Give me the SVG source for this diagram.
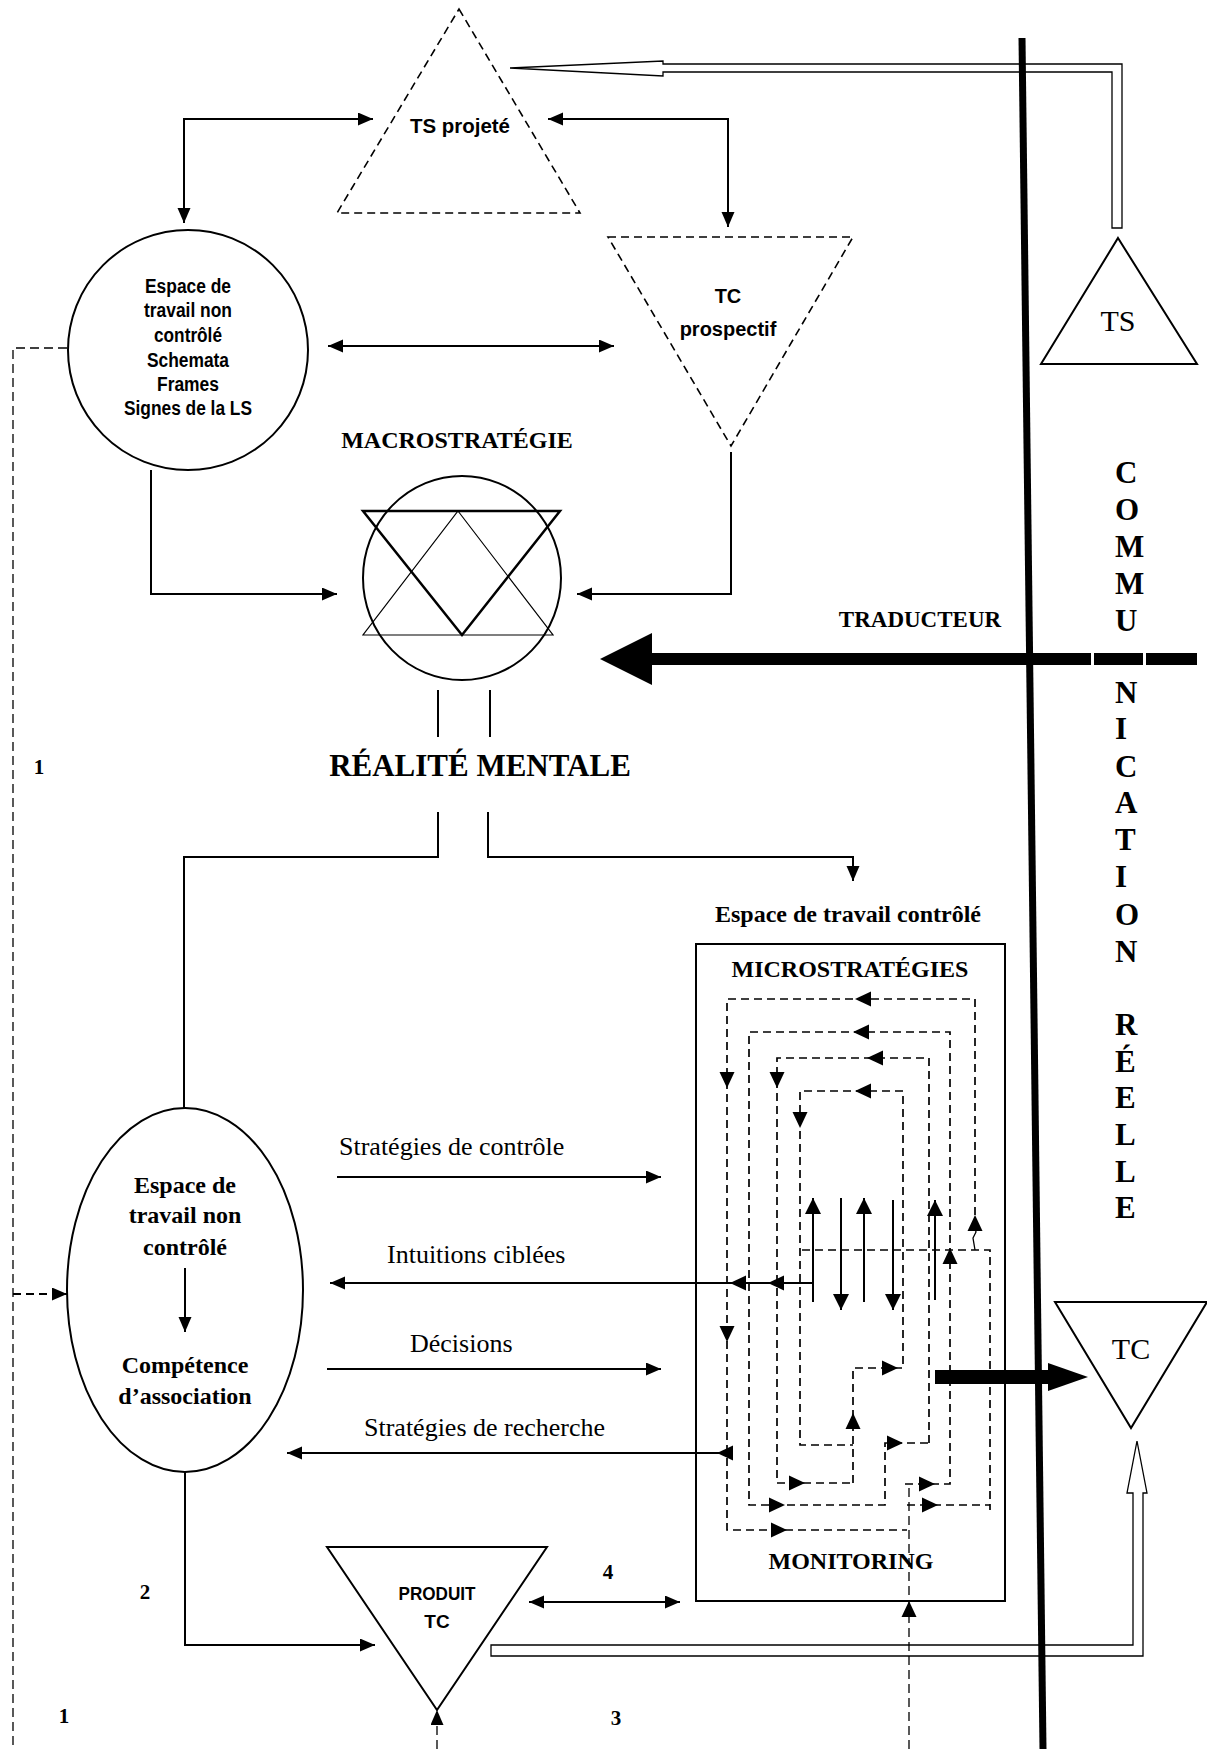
<svg xmlns="http://www.w3.org/2000/svg" xmlns:xlink="http://www.w3.org/1999/xlink" width="1207" height="1749" viewBox="0 0 1207 1749">
<style>
.ser{font-family:"Liberation Serif","Times New Roman",serif;fill:#000}
.sb{font-family:"Liberation Serif","Times New Roman",serif;font-weight:bold;fill:#000}
.sans{font-family:"Liberation Sans",Arial,sans-serif;font-weight:bold;fill:#000}
.ln{fill:none;stroke:#000;stroke-width:2}
.thin{fill:none;stroke:#000;stroke-width:1.3}
.dsh{fill:none;stroke:#000;stroke-width:1.7;stroke-dasharray:8 5}
.dsh2{fill:none;stroke:#000;stroke-width:2;stroke-dasharray:8 5}
.dsh3{fill:none;stroke:#000;stroke-width:1.3;stroke-dasharray:9 5}
.shape{fill:#fff;stroke:#000;stroke-width:2}
.hollow{fill:#fff;stroke:#000;stroke-width:1.3}
</style>
<defs>
<marker id="a" markerUnits="userSpaceOnUse" markerWidth="16" markerHeight="14" refX="15" refY="6.5" orient="auto-start-reverse"><path d="M0,0 L15,6.5 L0,13 Z" fill="#000"/></marker>
<marker id="b" markerUnits="userSpaceOnUse" markerWidth="18" markerHeight="16" refX="16" refY="8" orient="auto-start-reverse"><path d="M0,0 L16,8 L0,16 Z" fill="#000"/></marker>
<path id="hd" d="M0,0 L-16,-7.5 L-16,7.5 Z" fill="#000"/>
</defs>

<g id="connectors">
<!-- top hollow arrow TS -> TS projeté -->
<polygon class="hollow" points="510,68 663,61 663,64 1122,64 1122,228 1112,228 1112,72 663,72 663,76"/>
<!-- bottom hollow arrow PRODUIT TC -> TC -->
<polygon class="hollow" points="491,1645 1133,1645 1133,1493 1127,1493 1137,1441 1147,1493 1143,1493 1143,1656 491,1656"/>

<path class="ln" d="M184,223 V119 H373" marker-start="url(#a)" marker-end="url(#a)"/>
<path class="ln" d="M548,119 H728 V227" marker-start="url(#a)" marker-end="url(#a)"/>
<path class="ln" d="M328,346 H614" marker-start="url(#a)" marker-end="url(#a)"/>
<path class="ln" d="M151,470 V594 H337" marker-end="url(#a)"/>
<path class="ln" d="M731,452 V594 H577" marker-end="url(#a)"/>

<!-- TRADUCTEUR thick arrow -->
<polygon points="600,659 652,633 652,685" fill="#000"/>
<rect x="650" y="653" width="441" height="12" fill="#000"/>
<rect x="1094" y="653" width="49" height="12" fill="#000"/>
<rect x="1146" y="653" width="51" height="12" fill="#000"/>

<!-- réalité mentale links -->
<path class="ln" d="M438,690 V737 M490,690 V737"/>
<path class="ln" d="M438,812 V857 H184 V1108"/>
<path class="ln" d="M488,812 V857 H853 V881" marker-end="url(#a)"/>

<!-- labelled arrows -->
<path class="ln" d="M337,1177 H661" marker-end="url(#a)"/>
<path class="ln" d="M813,1283 H330" marker-end="url(#a)"/>
<use xlink:href="#hd" transform="translate(730,1283) rotate(180)"/>
<use xlink:href="#hd" transform="translate(768,1283) rotate(180)"/>
<path class="ln" d="M327,1369 H661" marker-end="url(#a)"/>
<path class="ln" d="M727,1453 H287" marker-end="url(#a)"/>
<use xlink:href="#hd" transform="translate(717,1453) rotate(180)"/>
<path class="ln" d="M529,1602 H680" marker-start="url(#a)" marker-end="url(#a)"/>
<path class="ln" d="M185,1472 V1645 H375" marker-end="url(#a)"/>

<!-- dashed external -->
<path class="dsh3" d="M67,348 H13 V1749"/>
<path class="dsh2" d="M13,1294 H67" marker-end="url(#a)"/>
<path class="dsh3" d="M437,1749 V1710" marker-end="url(#a)"/>
<path class="dsh3" d="M909,1749 V1483"/>
<use xlink:href="#hd" transform="translate(909,1601) rotate(-90)"/>

<!-- microstrategies loops -->
<path class="dsh" d="M975,1215 V999 H727 V1530 H907"/>
<path class="thin" d="M975,1250 L973,1238 L976,1232 L974,1224"/>
<use xlink:href="#hd" transform="translate(975,1215) rotate(-90)"/>
<use xlink:href="#hd" transform="translate(855,999) rotate(180)"/>
<use xlink:href="#hd" transform="translate(727,1088) rotate(90)"/>
<use xlink:href="#hd" transform="translate(727,1342) rotate(90)"/>
<use xlink:href="#hd" transform="translate(787,1530)"/>
<path class="dsh" d="M802,1250 H990 V1510 M907,1505 H990"/>
<use xlink:href="#hd" transform="translate(938,1505)"/>

<path class="dsh" d="M905,1484 H950 V1032 H749 V1505 H885 V1443 H929"/>
<use xlink:href="#hd" transform="translate(935,1484)"/>
<use xlink:href="#hd" transform="translate(950,1248) rotate(-90)"/>
<use xlink:href="#hd" transform="translate(853,1032) rotate(180)"/>
<use xlink:href="#hd" transform="translate(785,1505)"/>
<use xlink:href="#hd" transform="translate(903,1443)"/>

<path class="dsh" d="M929,1443 V1058 H777 V1483 H853"/>
<use xlink:href="#hd" transform="translate(867,1058) rotate(180)"/>
<use xlink:href="#hd" transform="translate(777,1088) rotate(90)"/>
<use xlink:href="#hd" transform="translate(805,1483)"/>

<path class="dsh" d="M853,1483 V1368 H903 V1091 H800 V1445 H853"/>
<use xlink:href="#hd" transform="translate(853,1413) rotate(-90)"/>
<use xlink:href="#hd" transform="translate(898,1368)"/>
<use xlink:href="#hd" transform="translate(855,1091) rotate(180)"/>
<use xlink:href="#hd" transform="translate(800,1128) rotate(90)"/>

<!-- solid verticals -->
<path class="ln" stroke-width="2.5" d="M813,1302 V1198" marker-end="url(#b)"/>
<path class="ln" stroke-width="2.5" d="M841,1198 V1310" marker-end="url(#b)"/>
<path class="ln" stroke-width="2.5" d="M864,1302 V1198" marker-end="url(#b)"/>
<path class="ln" stroke-width="2.5" d="M893,1200 V1310" marker-end="url(#b)"/>
<path class="ln" stroke-width="2.5" d="M935,1300 V1200" marker-end="url(#b)"/>

<!-- thick arrow to TC -->
<rect x="935" y="1370" width="114" height="14" fill="#000"/>
<polygon points="1048,1363 1088,1377 1048,1391" fill="#000"/>
</g>

<!-- communication line -->
<g id="communication">
<line x1="1022" y1="38" x2="1043" y2="1749" stroke="#000" stroke-width="7"/>
</g>

<g id="ts-projete">
<polygon points="459,9 580,213 337,213" fill="none" stroke="#000" stroke-width="1.6" stroke-dasharray="8 5"/>
<text class="sans" x="460" y="133" font-size="21" text-anchor="middle" textLength="100" lengthAdjust="spacingAndGlyphs">TS projeté</text>
</g>

<g id="tc-prospectif">
<polygon points="608,237 853,237 731,446" fill="none" stroke="#000" stroke-width="1.6" stroke-dasharray="8 5"/>
<text class="sans" x="728" y="303" font-size="20" text-anchor="middle">TC</text>
<text class="sans" x="728" y="336" font-size="20" text-anchor="middle">prospectif</text>
</g>

<g id="espace-non-controle-1">
<circle class="shape" cx="188" cy="350" r="120"/>
<g class="sans" font-size="20" text-anchor="middle">
<text x="188" y="293" textLength="86" lengthAdjust="spacingAndGlyphs">Espace de</text>
<text x="188" y="317" textLength="88" lengthAdjust="spacingAndGlyphs">travail non</text>
<text x="188" y="342" textLength="68" lengthAdjust="spacingAndGlyphs">contrôlé</text>
<text x="188" y="367" textLength="82" lengthAdjust="spacingAndGlyphs">Schemata</text>
<text x="188" y="391" textLength="62" lengthAdjust="spacingAndGlyphs">Frames</text>
<text x="188" y="415" textLength="128" lengthAdjust="spacingAndGlyphs">Signes de la LS</text>
</g>
</g>

<g id="ts">
<polygon class="shape" points="1118,238 1197,364 1041,364"/>
<text class="ser" x="1118" y="331" font-size="30" text-anchor="middle">TS</text>
</g>

<g id="macrostrategie">
<text class="sb" x="457" y="448" font-size="24" text-anchor="middle">MACROSTRATÉGIE</text>
<ellipse class="shape" cx="462" cy="578" rx="99" ry="102"/>
<polygon points="363,511 560,511 462,635" fill="none" stroke="#000" stroke-width="2.5"/>
<polygon points="458,511 553,635 363,635" fill="none" stroke="#000" stroke-width="1.2"/>
</g>

<g id="traducteur">
<text class="sb" x="920" y="627" font-size="23" text-anchor="middle">TRADUCTEUR</text>
</g>

<g id="realite-mentale">
<text class="sb" x="480" y="776" font-size="31" text-anchor="middle">RÉALITÉ MENTALE</text>
</g>

<g id="communication-reelle" class="sb" font-size="31">
<text x="1115" y="483">C</text>
<text x="1115" y="520">O</text>
<text x="1115" y="557">M</text>
<text x="1115" y="594">M</text>
<text x="1115" y="631">U</text>
<text x="1115" y="703">N</text>
<text x="1115" y="739">I</text>
<text x="1115" y="777">C</text>
<text x="1115" y="813">A</text>
<text x="1115" y="850">T</text>
<text x="1115" y="887">I</text>
<text x="1115" y="925">O</text>
<text x="1115" y="962">N</text>
<text x="1115" y="1035">R</text>
<text x="1115" y="1072">É</text>
<text x="1115" y="1108">E</text>
<text x="1115" y="1145">L</text>
<text x="1115" y="1182">L</text>
<text x="1115" y="1218">E</text>
</g>

<g id="espace-controle">
<text class="sb" x="848" y="922" font-size="24" text-anchor="middle">Espace de travail contrôlé</text>
<rect x="696" y="944" width="309" height="657" fill="none" stroke="#000" stroke-width="2"/>
<text class="sb" x="850" y="977" font-size="24" text-anchor="middle">MICROSTRATÉGIES</text>
<text class="sb" x="851" y="1569" font-size="24" text-anchor="middle">MONITORING</text>
</g>

<g id="espace-non-controle-2">
<ellipse class="shape" cx="185" cy="1290" rx="118" ry="182"/>
<g class="sb" font-size="24" text-anchor="middle">
<text x="185" y="1193">Espace de</text>
<text x="185" y="1223">travail non</text>
<text x="185" y="1255">contrôlé</text>
<text x="185" y="1373">Compétence</text>
<text x="185" y="1404">d’association</text>
</g>
<path class="ln" d="M185,1268 V1332" marker-end="url(#a)"/>
</g>

<g id="labels">
<text class="ser" x="339" y="1155" font-size="26">Stratégies de contrôle</text>
<text class="ser" x="387" y="1263" font-size="26">Intuitions ciblées</text>
<text class="ser" x="410" y="1352" font-size="26">Décisions</text>
<text class="ser" x="364" y="1436" font-size="26">Stratégies de recherche</text>
<text class="sb" x="39" y="774" font-size="21" text-anchor="middle">1</text>
<text class="sb" x="145" y="1599" font-size="21" text-anchor="middle">2</text>
<text class="sb" x="608" y="1579" font-size="21" text-anchor="middle">4</text>
<text class="sb" x="64" y="1723" font-size="21" text-anchor="middle">1</text>
<text class="sb" x="616" y="1725" font-size="21" text-anchor="middle">3</text>
</g>

<g id="tc">
<polygon class="shape" points="1055,1302 1207,1302 1131,1428"/>
<text class="ser" x="1131" y="1359" font-size="30" text-anchor="middle">TC</text>
</g>

<g id="produit-tc">
<polygon class="shape" points="327,1547 547,1547 437,1710"/>
<text class="sans" x="437" y="1600" font-size="19" text-anchor="middle" textLength="77" lengthAdjust="spacingAndGlyphs">PRODUIT</text>
<text class="sans" x="437" y="1628" font-size="19" text-anchor="middle">TC</text>
</g>
</svg>
